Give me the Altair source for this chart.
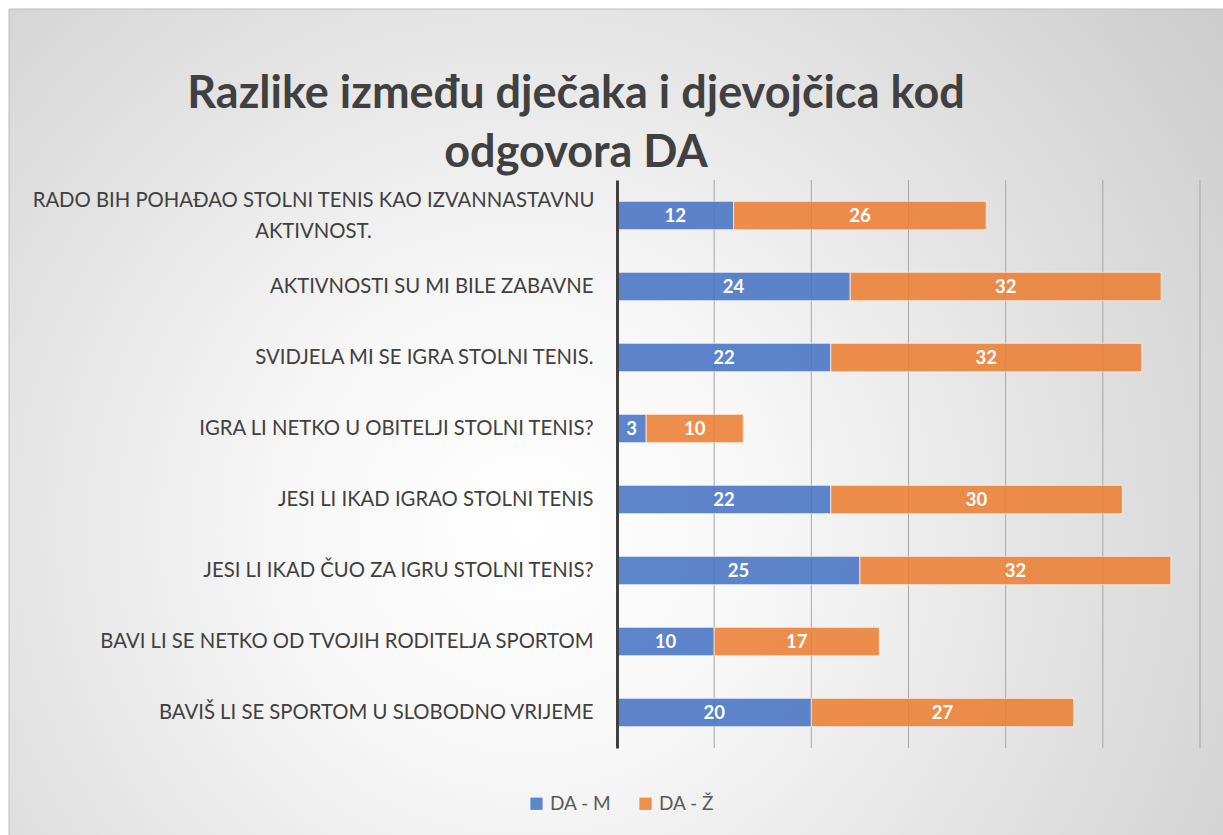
import altair as alt
import pandas as pd

categories = [
    "RADO BIH POHAĐAO STOLNI TENIS KAO IZVANNASTAVNU|AKTIVNOST.",
    "AKTIVNOSTI SU MI BILE ZABAVNE",
    "SVIDJELA MI SE IGRA STOLNI TENIS.",
    "IGRA LI NETKO U OBITELJI STOLNI TENIS?",
    "JESI LI IKAD IGRAO STOLNI TENIS",
    "JESI LI IKAD ČUO ZA IGRU STOLNI TENIS?",
    "BAVI LI SE NETKO OD TVOJIH RODITELJA SPORTOM",
    "BAVIŠ LI SE SPORTOM U SLOBODNO VRIJEME",
]
da_m = [12, 24, 22, 3, 22, 25, 10, 20]
da_z = [26, 32, 32, 10, 30, 32, 17, 27]
series = ["DA - M", "DA - Ž"]
colors = ["#4472C4", "#ED7D31"]
grid_ticks = [10, 20, 30, 40, 50, 60]

rows = []
for c, m, z in zip(categories, da_m, da_z):
    rows.append({"cat": c, "series": series[0], "value": m, "ord": 0})
    rows.append({"cat": c, "series": series[1], "value": z, "ord": 1})
df = pd.DataFrame(rows)
grid_df = pd.DataFrame({"t": grid_ticks})

W, H = 583, 568
PL, PT = 617, 180
FONT = "Lato"
LABEL_SIZE = 20.3

xscale = alt.Scale(domain=[0, 60], nice=False, zero=True)
yscale = alt.Scale(domain=categories, paddingInner=0.6, paddingOuter=0.3)

bg = alt.Chart(pd.DataFrame({"a": [0]})).mark_rect(
    fill=alt.RadialGradient(
        gradient="radial",
        stops=[
            alt.GradientStop(color="#ffffff", offset=0),
            alt.GradientStop(color="#f7f7f7", offset=0.25),
            alt.GradientStop(color="#c6c6c6", offset=1),
        ],
        x1=0.42, y1=0.58, r1=0,
        x2=0.42, y2=0.58, r2=0.78,
    ),
    stroke="#bdbdbd", strokeWidth=1,
).encode(
    x=alt.value(9 - PL), x2=alt.value(1240 - PL),
    y=alt.value(9 - PT), y2=alt.value(850 - PT),
)

grid = alt.Chart(grid_df).mark_rule(color="#a6a6a6", strokeWidth=1).encode(
    x=alt.X("t:Q", scale=xscale, axis=None),
    y=alt.value(0), y2=alt.value(H),
)

base = alt.Chart(df).transform_stack(
    stack="value", groupby=["cat"], sort=[alt.SortField("ord")], as_=["x0", "x1"]
).transform_calculate(mid="(datum.x0 + datum.x1) / 2")

multi = "indexof(datum.label, '|') >= 0"

bars = base.mark_bar(opacity=0.86, stroke="#ffffff", strokeWidth=1, strokeOpacity=0.7).encode(
    x=alt.X("x0:Q", scale=xscale, axis=None),
    x2="x1:Q",
    y=alt.Y("cat:N", scale=yscale, sort=categories, title=None,
            axis=alt.Axis(
                labelExpr="split(datum.label, '|')",
                labelFont=FONT, labelFontSize=LABEL_SIZE, labelColor="#404040",
                labelPadding={"condition": {"test": multi, "value": 304}, "value": 24},
                labelAlign={"condition": {"test": multi, "value": "center"}, "value": "right"},
                labelOffset={"condition": {"test": multi, "value": -15}, "value": 0},
                labelLimit=700, labelLineHeight=31,
                ticks=False, grid=False,
                domainColor="#404040", domainWidth=3, zindex=1,
            )),
    color=alt.Color("series:N", scale=alt.Scale(domain=series, range=colors),
                    legend=alt.Legend(
                        title=None, orient="none", direction="horizontal",
                        legendX=527 - PL, legendY=794 - PT,
                        symbolType="square", symbolSize=150, symbolStrokeWidth=0,
                        labelFont=FONT, labelFontSize=19, labelColor="#595959",
                        columnPadding=24, symbolOffset=0,
                    )),
)

labels = base.mark_text(font=FONT, fontSize=18.5, fontWeight="bold", color="white").encode(
    x=alt.X("mid:Q", scale=xscale),
    y=alt.Y("cat:N", scale=yscale, sort=categories),
    text="value:Q",
)

chart = alt.layer(bg, grid, bars, labels).properties(
    width=W, height=H,
    title=alt.TitleParams(
        text=["Razlike između dječaka i djevojčica kod", "odgovora DA"],
        font=FONT, fontSize=45, fontWeight="bold", color="#404040",
        anchor="middle", frame="group", dx=576 - (PL + W / 2),
        lineHeight=59, offset=-167,
    ),
    autosize=alt.AutoSizeParams(type="none"),
    padding={"left": PL, "top": PT, "right": 1223 - PL - W, "bottom": 835 - PT - H},
    background="white",
).configure_view(stroke=None)

chart.save("out.html", embed_options={"renderer": "svg", "actions": False})
